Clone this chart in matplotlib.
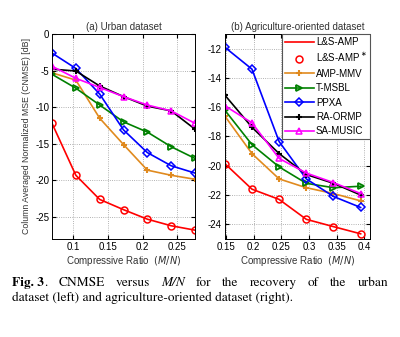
import numpy as np
import matplotlib
matplotlib.use('Agg')
import matplotlib.pyplot as plt

plt.rcParams['font.family'] = ['Liberation Sans', 'DejaVu Sans']
plt.rcParams['axes.unicode_minus'] = False

# (a) urban dataset, M/N = k/29
x_urban = [2/29, 3/29, 4/29, 5/29, 6/29, 7/29, 8/29]
urban_lsamp = [-12.2, -19.3, -22.6, -24.0, -25.3, -26.2, -26.8]
urban_ampmmv = [-5.3, -6.3, -11.5, -15.1, -18.6, -19.3, -19.85]
urban_tmsbl = [-5.5, -7.4, -9.7, -12.0, -13.4, -15.4, -17.0]
urban_ppxa = [-2.6, -4.7, -8.2, -13.1, -16.2, -18.0, -19.0]
urban_raormp = [-4.8, -5.05, -7.1, -8.55, -9.85, -10.5, -13.0]
urban_samusic = [-4.4, -6.05, -7.3, -8.55, -9.7, -10.5, -12.2]

# (b) agriculture-oriented dataset, M/N = k/61
x_agri = [9/61, 12/61, 15/61, 18/61, 21/61, 24/61]
agri_lsamp = [-19.85, -21.6, -22.3, -23.66, -24.16, -24.65]
agri_ampmmv = [-16.6, -19.17, -20.9, -21.5, -21.9, -22.4]
agri_tmsbl = [-16.2, -18.56, -20.08, -21.2, -21.5, -21.4]
agri_ppxa = [-11.9, -13.4, -18.35, -20.9, -22.1, -22.85]
agri_raormp = [-15.17, -17.37, -19.17, -20.6, -21.2, -22.0]
agri_samusic = [-15.9, -17.07, -19.5, -20.5, -21.15, -21.9]

orange = '#e08a1e'
green = '#008000'


def draw(ax, x, lsamp, ampmmv, tmsbl, ppxa, raormp, samusic):
    ax.plot(x, lsamp, color='red', lw=1.2, label='L&S-AMP')
    ax.plot(x, lsamp, ls='none', marker='o', ms=5, mfc='none', mec='red', mew=1.1, label=r'L&S-AMP$^\ast$')
    ax.plot(x, ampmmv, color=orange, lw=1.2, marker='+', ms=4.5, mew=1.5, label='AMP-MMV')
    ax.plot(x, tmsbl, color=green, lw=1.2, marker='>', ms=5, mfc='none', mew=1.3, label='T-MSBL')
    ax.plot(x, ppxa, color='blue', lw=1.2, marker='D', ms=4.5, mfc='none', mew=1.1, label='PPXA')
    ax.plot(x, raormp, color='black', lw=1.2, marker='+', ms=5, mew=1.5, label='RA-ORMP')
    ax.plot(x, samusic, color='magenta', lw=1.2, marker='^', ms=5, mfc='none', mew=1.1, label='SA-MUSIC')
    ax.grid(True, ls=':', lw=0.6, color='#999999')
    ax.tick_params(direction='in', labelsize=7, length=3, top=True, right=True, pad=2)
    ax.set_xlabel(r'Compressive Ratio  $\mathit{(M/N)}$', fontsize=7, labelpad=2,
                  math_fontfamily='dejavusans', color='#333333')
    for s in ax.spines.values():
        s.set_linewidth(0.7)


fig = plt.figure(figsize=(4, 3.37), dpi=100)
ax1 = fig.add_axes([0.13, 0.291, 0.3575, 0.608])
ax2 = fig.add_axes([0.562, 0.291, 0.3625, 0.608])

draw(ax1, x_urban, urban_lsamp, urban_ampmmv, urban_tmsbl, urban_ppxa, urban_raormp, urban_samusic)
ax1.set_xlim(2/29, 8/29)
ax1.set_ylim(-28, 0)
ax1.set_xticks([0.1, 0.15, 0.2, 0.25])
ax1.set_xticklabels(['0.1', '0.15', '0.2', '0.25'])
ax1.set_yticks([0, -5, -10, -15, -20, -25])
ax1.set_title('(a) Urban dataset', fontsize=7, pad=3, color='#333333')
ax1.set_ylabel('Column Averaged Normalized MSE (CNMSE) [dB]', fontsize=6.3, labelpad=3, color='#333333')

draw(ax2, x_agri, agri_lsamp, agri_ampmmv, agri_tmsbl, agri_ppxa, agri_raormp, agri_samusic)
ax2.set_xlim(9/61, 0.41)
ax2.set_ylim(-25, -11)
ax2.set_xticks([0.15, 0.2, 0.25, 0.3, 0.35, 0.4])
ax2.set_xticklabels(['0.15', '0.2', '0.25', '0.3', '0.35', '0.4'])
ax2.set_yticks([-12, -14, -16, -18, -20, -22, -24])
ax2.set_title('(b) Agriculture-oriented dataset', fontsize=7, pad=3, color='#333333')
leg = ax2.legend(loc='upper right', fontsize=7, handlelength=3, labelspacing=0.45,
                 borderaxespad=0.0, borderpad=0.3, handletextpad=0.2, fancybox=False,
                 framealpha=1, edgecolor='#555555')
leg.get_frame().set_linewidth(0.8)

# caption, first line justified like the paper
cap_size = 9.6
cap_font = dict(fontsize=cap_size, family='STIXGeneral', va='baseline')
words = [[('Fig. 3', 'bold', 'normal'), ('.', 'normal', 'normal')],
         [('CNMSE', 'normal', 'normal')], [('versus', 'normal', 'normal')],
         [('M/N', 'normal', 'italic')], [('for', 'normal', 'normal')],
         [('the', 'normal', 'normal')], [('recovery', 'normal', 'normal')],
         [('of', 'normal', 'normal')], [('the', 'normal', 'normal')],
         [('urban', 'normal', 'normal')]]
renderer = fig.canvas.get_renderer()
x_left, x_right, y1 = 12, 388, 337 - 285.7
groups = []
for w in words:
    pieces = []
    for txt, wt, st in w:
        t = fig.text(0, 0, txt, fontweight=wt, fontstyle=st, transform=None, **cap_font)
        pieces.append((t, t.get_window_extent(renderer).width))
    groups.append(pieces)
total = sum(wd for g in groups for _, wd in g)
gap = (x_right - x_left - total) / (len(groups) - 1)
xpos = x_left
for g in groups:
    for t, wd in g:
        t.set_position((xpos, y1))
        xpos += wd
    xpos += gap

fig.text(x_left, 337 - 301, 'dataset (left) and agriculture-oriented dataset (right).',
         transform=None, **cap_font)

fig.savefig('out.png', dpi=100)
